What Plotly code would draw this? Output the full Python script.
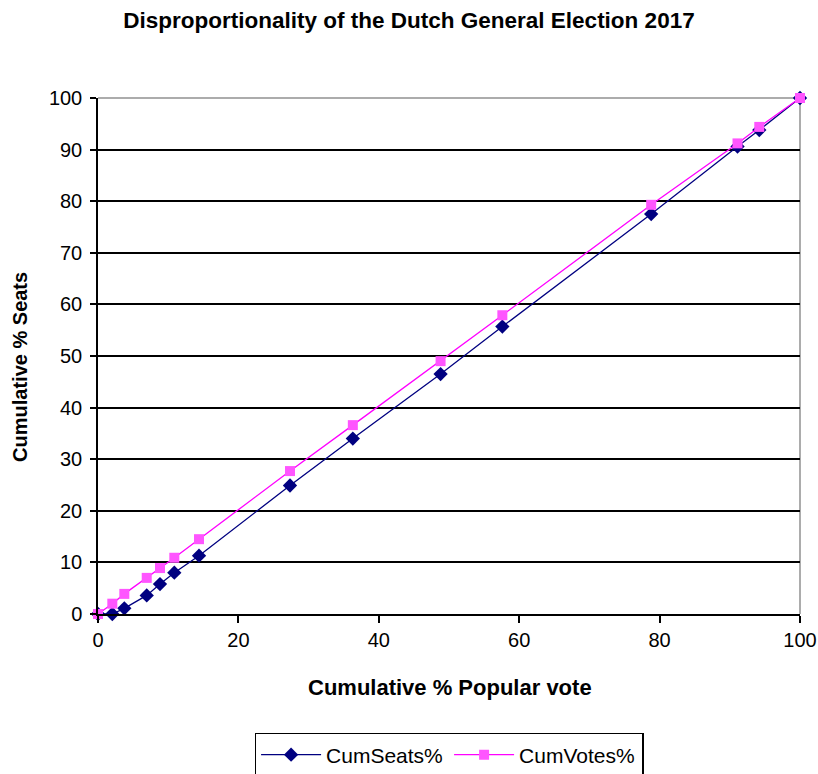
import plotly.graph_objects as go

# Cumulative shares (%) of the popular vote, parties added one by one
cum_votes_x = [0, 2.04, 3.75, 6.94, 8.83, 10.87, 14.39, 27.35, 36.3, 48.8, 57.6, 78.8, 91.1, 94.2, 100]
# Cumulative % of seats won at each step
cum_seats = [0, 0, 1.1, 3.6, 5.8, 8.0, 11.3, 24.9, 34.0, 46.5, 55.7, 77.5, 90.6, 93.8, 100]
# Cumulative % of votes at each step (the proportional reference line)
cum_votes = [0, 2.0, 3.9, 7.0, 8.9, 10.9, 14.5, 27.7, 36.6, 49.0, 57.9, 79.3, 91.2, 94.4, 100]

x_ticks = [0, 20, 40, 60, 80, 100]
y_ticks = [0, 10, 20, 30, 40, 50, 60, 70, 80, 90, 100]

FONT = "Liberation Sans, Arial, sans-serif"

fig = go.Figure()
fig.add_trace(go.Scatter(
    x=cum_votes_x, y=cum_seats, name="CumSeats%", mode="lines+markers",
    line=dict(color="#000080", width=1.3),
    marker=dict(symbol="diamond", size=11, color="#000080"),
    cliponaxis=False,
))
fig.add_trace(go.Scatter(
    x=cum_votes_x, y=cum_votes, name="CumVotes%", mode="lines+markers",
    line=dict(color="#FF00FF", width=1.3),
    marker=dict(symbol="square", size=10, color="#FF55FF"),
    cliponaxis=False,
))

# grey frame on the top and right of the plot area
fig.add_shape(type="line", xref="paper", yref="paper", x0=0, x1=1, y0=1, y1=1,
              line=dict(color="#909090", width=1.5), layer="below")
fig.add_shape(type="line", xref="paper", yref="paper", x0=1, x1=1, y0=0, y1=1,
              line=dict(color="#909090", width=1.5), layer="below")

# axis titles
fig.add_annotation(text="<b>Cumulative % Popular vote</b>", xref="paper", yref="paper",
                   x=0.502, y=-0.143, xanchor="center", yanchor="middle", showarrow=False,
                   font=dict(family=FONT, size=22, color="black"))
fig.add_annotation(text="<b>Cumulative % Seats</b>", xref="paper", yref="paper",
                   x=-0.111, y=0.479, xanchor="center", yanchor="middle", showarrow=False,
                   textangle=-90, font=dict(family=FONT, size=20, color="black"))

fig.update_layout(
    width=818, height=774,
    margin=dict(l=98, r=18, t=98, b=160),
    paper_bgcolor="white", plot_bgcolor="white",
    font=dict(family=FONT, size=20, color="black"),
    title=dict(text="<b>Disproportionality of the Dutch General Election 2017</b>",
               x=0.5, xanchor="center", y=0.974, yanchor="middle",
               font=dict(family=FONT, size=22.5, color="black")),
    xaxis=dict(
        range=[0, 100], tickvals=x_ticks, showgrid=False, zeroline=False,
        showline=True, linecolor="black", linewidth=1.5, automargin=False,
        ticks="outside", ticklen=7, tickcolor="black", tickwidth=1.5,
        tickfont=dict(size=20),
    ),
    yaxis=dict(
        range=[0, 100], tickvals=y_ticks, showgrid=True, gridcolor="black", gridwidth=1.5,
        zeroline=False, showline=True, linecolor="black", linewidth=1.5, automargin=False,
        ticks="outside", ticklen=6, tickcolor="black", tickwidth=1.5,
        tickfont=dict(size=20), ticklabelstandoff=4,
    ),
    legend=dict(
        orientation="h", x=0.549, xanchor="center", xref="container",
        y=0.053, yanchor="top", yref="container",
        bordercolor="black", borderwidth=1.5, bgcolor="white",
        font=dict(family=FONT, size=21), entrywidth=118, itemwidth=60,
    ),
    showlegend=True,
)

fig.write_html("out.html")
